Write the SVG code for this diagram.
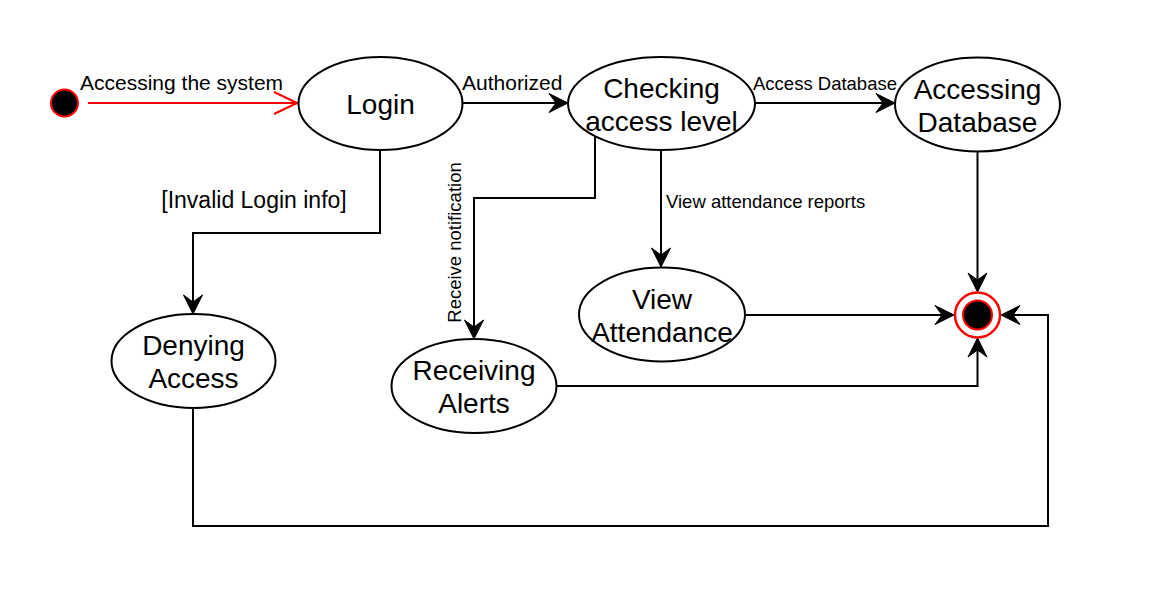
<svg xmlns="http://www.w3.org/2000/svg" width="1160" height="600" viewBox="0 0 1160 600">
<style>
.node{fill:#fff;stroke:#000;stroke-width:2}
.nt{font-family:"Liberation Sans",Arial,sans-serif;font-size:28px;fill:#000;text-anchor:middle}
.lbl{font-family:"Liberation Sans",Arial,sans-serif;fill:#000}
.big{font-size:21px}
.sm{font-size:18.5px}
.edge{fill:none;stroke:#000;stroke-width:2}
.red{fill:none;stroke:#f00;stroke-width:2}
</style>
<defs>
<marker id="ah" viewBox="-20 -11 22 22" refX="-12" refY="0" markerWidth="22" markerHeight="22" markerUnits="userSpaceOnUse" orient="auto">
<path d="M0,0 L-19,-9.5 L-12,0 L-19,9.5 Z" fill="#000" stroke="#000" stroke-width="1"/>
</marker>
<marker id="open" viewBox="-26 -13 28 26" refX="0" refY="0" markerWidth="28" markerHeight="26" markerUnits="userSpaceOnUse" orient="auto">
<path d="M-23,-11 L0,0 L-23,11" fill="none" stroke="#f00" stroke-width="2"/>
</marker>
</defs>
<rect width="1160" height="600" fill="#fff"/>
<g id="connectors">
<path class="red" d="M88,103 L297,103" marker-end="url(#open)"/>
<path class="edge" d="M462,103 L556,103" marker-end="url(#ah)"/>
<path class="edge" d="M755,103 L883,103" marker-end="url(#ah)"/>
<path class="edge" d="M380,151 V233 H193 V302" marker-end="url(#ah)"/>
<path class="edge" d="M595,137 V198 H474 V327" marker-end="url(#ah)"/>
<path class="edge" d="M661,150 V255" marker-end="url(#ah)"/>
<path class="edge" d="M977.5,152 V280" marker-end="url(#ah)"/>
<path class="edge" d="M745,315 H942" marker-end="url(#ah)"/>
<path class="edge" d="M556,386 H977.5 V350" marker-end="url(#ah)"/>
<path class="edge" d="M193,408 V526 H1048 V315 H1013" marker-end="url(#ah)"/>
<text class="lbl big" x="80" y="90">Accessing the system</text>
<text class="lbl big" x="462" y="90">Authorized</text>
<text class="lbl sm" x="753" y="90">Access Database</text>
<text class="lbl" x="254" y="208" font-size="23" text-anchor="middle">[Invalid Login info]</text>
<text class="lbl sm" x="666" y="208">View attendance reports</text>
<text class="lbl sm" text-anchor="middle" transform="translate(461,242.5) rotate(-90)">Receive notification</text>
</g>
<g id="start">
<circle cx="64.5" cy="103" r="13.5" fill="#000" stroke="#f00" stroke-width="2"/>
</g>
<g id="login">
<ellipse class="node" cx="380.5" cy="103.5" rx="82" ry="46.5"/>
<text class="nt" x="380.5" y="114">Login</text>
</g>
<g id="checking">
<ellipse class="node" cx="661.5" cy="103.5" rx="93.5" ry="46.5"/>
<text class="nt" x="661.5" y="98">Checking</text>
<text class="nt" x="661.5" y="131">access level</text>
</g>
<g id="accessingdb">
<ellipse class="node" cx="977.5" cy="104.5" rx="82.5" ry="47"/>
<text class="nt" x="977.5" y="98.5">Accessing</text>
<text class="nt" x="977.5" y="131.5">Database</text>
</g>
<g id="denying">
<ellipse class="node" cx="193.5" cy="361" rx="82" ry="47"/>
<text class="nt" x="193.5" y="355">Denying</text>
<text class="nt" x="193.5" y="388">Access</text>
</g>
<g id="receiving">
<ellipse class="node" cx="474" cy="386" rx="82.5" ry="47"/>
<text class="nt" x="474" y="380">Receiving</text>
<text class="nt" x="474" y="413">Alerts</text>
</g>
<g id="viewattendance">
<ellipse class="node" cx="662" cy="314.5" rx="83" ry="47"/>
<text class="nt" x="662" y="308.5">View</text>
<text class="nt" x="662" y="341.5">Attendance</text>
</g>
<g id="final">
<circle cx="977.5" cy="315" r="22.5" fill="#fff" stroke="#f00" stroke-width="2.5"/>
<circle cx="977.5" cy="315" r="14.5" fill="#000" stroke="#f00" stroke-width="2"/>
</g>
</svg>
